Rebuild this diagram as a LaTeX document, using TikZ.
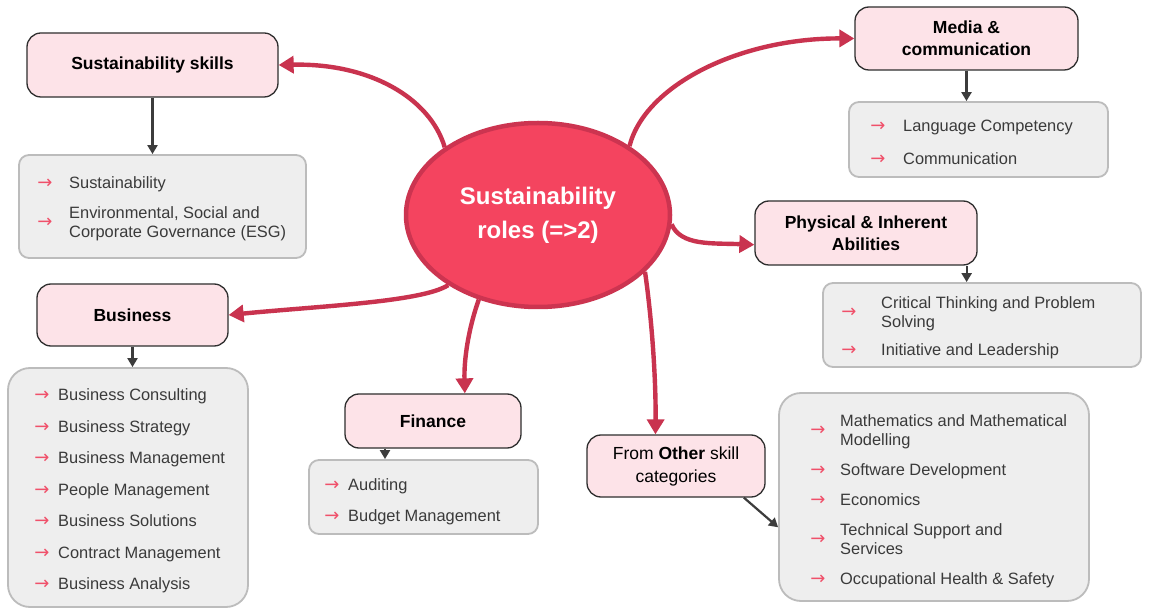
\documentclass[tikz,border=0pt]{standalone}
\usepackage{fontspec}
\setmainfont{Liberation Sans}
\newfontfamily\arrowfont{DejaVu Sans}
\usetikzlibrary{shapes.geometric,arrows.meta}
\definecolor{hdrfill}{HTML}{FDE3E8}
\definecolor{hdrborder}{HTML}{2E2E2E}
\definecolor{boxfill}{HTML}{EEEEEE}
\definecolor{boxborder}{HTML}{BCBCBC}
\definecolor{connred}{HTML}{C9334F}
\definecolor{ellfill}{HTML}{F4445F}
\definecolor{ellborder}{HTML}{CC3450}
\definecolor{bulletred}{HTML}{F0506A}
\definecolor{itemtext}{HTML}{3A3A3A}
\definecolor{subgray}{HTML}{3C3C3C}
\tikzset{
  hdr/.style={draw=hdrborder, line width=1.3pt, fill=hdrfill, rounded corners=14pt,
    align=center, inner sep=0pt, font=\bfseries\fontsize{17.5}{22}\selectfont},
  listbox/.style={draw=boxborder, line width=1.8pt, fill=boxfill, rounded corners=10pt, inner sep=0pt},
  item/.style={anchor=base west, inner sep=0pt, align=left, text=itemtext,
    font=\fontsize{16.4}{19.5}\selectfont},
  bullet/.style={inner sep=0pt, text=bulletred, font=\arrowfont\fontsize{18}{18}\selectfont},
  conn/.style={draw=connred, line width=4.4pt, -{Triangle[length=15pt,width=17pt]}},
  sub/.style={draw=subgray, line width=2.2pt, -{Triangle[length=9pt,width=10pt]}},
}
\begin{document}
\begin{tikzpicture}[x=1pt,y=-1pt]
\useasboundingbox[fill=white] (0,0) rectangle (1154,609);

% centre
\node[ellipse, draw=ellborder, line width=4.5pt, fill=ellfill, minimum width=264pt, minimum height=184pt,
  inner sep=0pt, align=center, text=white, font=\bfseries\fontsize{24}{34}\selectfont] (c) at (538,215)
  {Sustainability\\roles (=>2)};

% headers
\node[hdr, minimum width=251pt, minimum height=64pt] (skills) at (152.5,65) {Sustainability skills};
\node[hdr, minimum width=223pt, minimum height=63pt] (media) at (966.5,38.5) {Media \&\\communication};
\node[hdr, minimum width=222pt, minimum height=64pt] (phys) at (866,233) {Physical \& Inherent\\Abilities};
\node[hdr, minimum width=191pt, minimum height=62pt] (bus) at (132.5,315) {Business};
\node[hdr, minimum width=176pt, minimum height=54pt] (fin) at (433,421) {Finance};
\node[hdr, minimum width=178pt, minimum height=62pt, font=\fontsize{17.5}{23}\selectfont] (other) at (676,466)
  {From \textbf{Other} skill\\categories};

% list boxes
\node[listbox, minimum width=287pt, minimum height=103pt] (skillsbox) at (162.5,206.5) {};
\node[listbox, minimum width=259pt, minimum height=75pt] (mediabox) at (978.5,139.5) {};
\node[listbox, minimum width=318pt, minimum height=84pt] (physbox) at (982,325) {};
\node[listbox, rounded corners=22pt, minimum width=240pt, minimum height=239pt] (busbox) at (128,487.5) {};
\node[listbox, minimum width=229pt, minimum height=74pt] (finbox) at (423.5,497) {};
\node[listbox, rounded corners=22pt, minimum width=310pt, minimum height=208pt] (otherbox) at (934,497) {};

% skills items
\node[bullet] (sa1) at (45,184) {→};
\node[item] (s1) at (69,188.7) {Sustainability};
\node[bullet] (sa2) at (45,223) {→};
\node[item] (s2) at (69,237.7) {Environmental, Social and\\Corporate Governance (ESG)};

% media items
\node[bullet] (ma1) at (878,127) {→};
\node[item] (m1) at (903,131.7) {Language Competency};
\node[bullet] (ma2) at (878,160) {→};
\node[item] (m2) at (903,164.7) {Communication};

% physical items
\node[bullet] (pa1) at (849,313) {→};
\node[item] (p1) at (881,327.7) {Critical Thinking and Problem\\Solving};
\node[bullet] (pa2) at (849,351) {→};
\node[item] (p2) at (881,355.7) {Initiative and Leadership};

% business items
\node[bullet] (ba1) at (42,396) {→};
\node[item] (b1) at (58,400.7) {Business Consulting};
\node[bullet] (ba2) at (42,428) {→};
\node[item] (b2) at (58,432.7) {Business Strategy};
\node[bullet] (ba3) at (42,459) {→};
\node[item] (b3) at (58,463.7) {Business Management};
\node[bullet] (ba4) at (42,491) {→};
\node[item] (b4) at (58,495.7) {People Management};
\node[bullet] (ba5) at (42,522) {→};
\node[item] (b5) at (58,526.7) {Business Solutions};
\node[bullet] (ba6) at (42,554) {→};
\node[item] (b6) at (58,558.7) {Contract Management};
\node[bullet] (ba7) at (42,585) {→};
\node[item] (b7) at (58,589.7) {Business Analysis};

% finance items
\node[bullet] (fa1) at (332,486) {→};
\node[item] (f1) at (348,490.7) {Auditing};
\node[bullet] (fa2) at (332,517) {→};
\node[item] (f2) at (348,521.7) {Budget Management};

% other items
\node[bullet] (oa1) at (818,431) {→};
\node[item] (o1) at (840,445.7) {Mathematics and Mathematical\\Modelling};
\node[bullet] (oa2) at (818,471) {→};
\node[item] (o2) at (840,475.7) {Software Development};
\node[bullet] (oa3) at (818,501) {→};
\node[item] (o3) at (840,505.7) {Economics};
\node[bullet] (oa4) at (818,540) {→};
\node[item] (o4) at (840,554.7) {Technical Support and\\Services};
\node[bullet] (oa5) at (818,580) {→};
\node[item] (o5) at (840,584.7) {Occupational Health \& Safety};

% red connectors
\draw[conn] (c.144) .. controls (430,98) and (370,63) .. (skills.east);
\draw[conn] (c.37) .. controls (645,85) and (740,38) .. (media.west);
\draw[conn] (c.-4) .. controls (681,246) and (712,243) .. (phys.186);
\draw[conn] (c.218) .. controls (422,302) and (320,306) .. (bus.east);
\draw[conn] (c.235) .. controls (468,330) and (464,360) .. (fin.41);
\draw[conn] (c.-28) .. controls (652,320) and (656,380) .. (other.123);

% sub connectors
\draw[sub] (skills.south) -- (skills.south |- skillsbox.north);
\draw[sub] (media.south) -- (media.south |- mediabox.north);
\draw[sub] ([xshift=-11pt]phys.south east) -- ([xshift=-11pt]phys.south east |- physbox.north);
\draw[sub] (bus.south) -- (bus.south |- busbox.north);
\draw[sub] ([xshift=-48pt]fin.south) -- ([xshift=-48pt]fin.south |- finbox.north);
\draw[sub] (other.-25.5) -- (otherbox.191);
\end{tikzpicture}
\end{document}
